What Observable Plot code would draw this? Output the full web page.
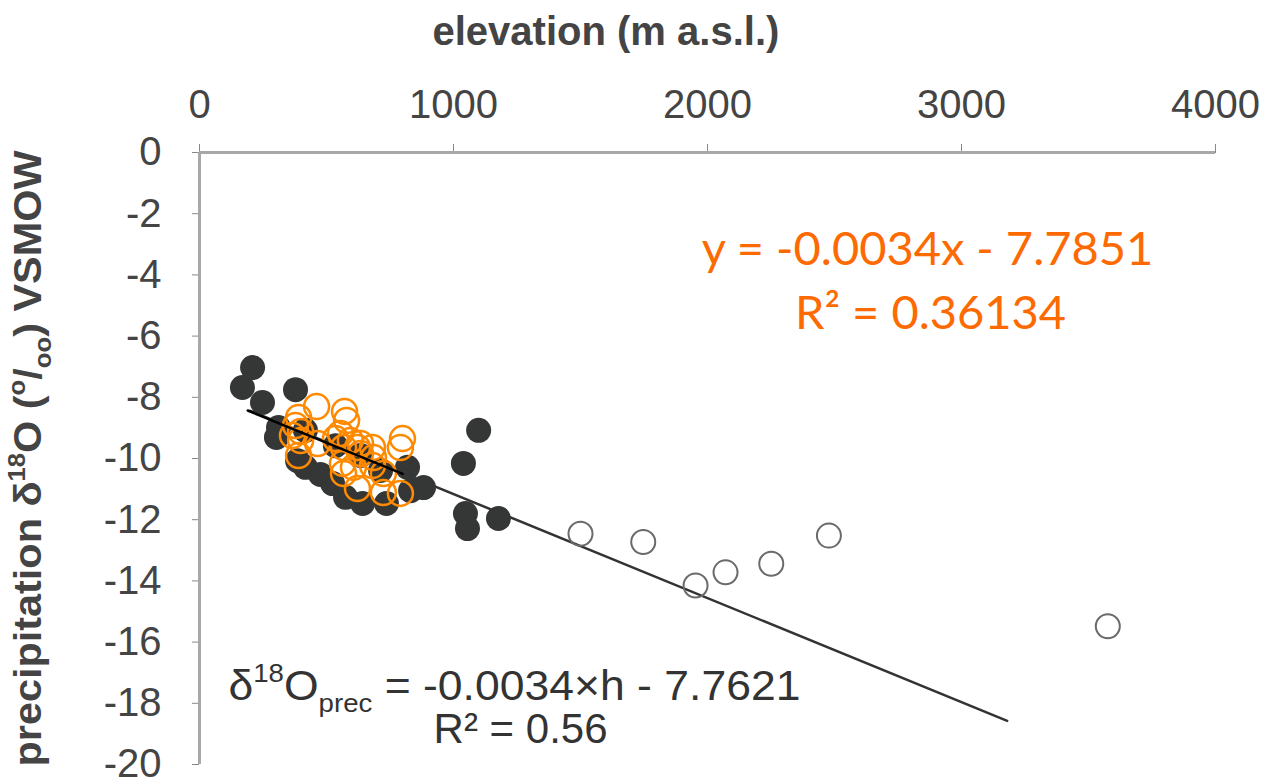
<!DOCTYPE html>
<html><head><meta charset="utf-8">
<script src="https://cdn.jsdelivr.net/npm/d3@7"></script>
<script src="https://cdn.jsdelivr.net/npm/@observablehq/plot@0.6"></script>
<style>body{margin:0;background:#fff;overflow:hidden}</style>
</head><body><div id="chart"></div>
<script>
// ---- data ----
const blackElev = [169, 209, 248, 378, 311, 303, 386, 417, 476, 524, 575, 642, 736, 831, 819, 882, 417, 535, 634, 713, 1039, 1099, 1047, 1055, 1177];
const blackD18O = [-7.68, -7.03, -8.17, -7.75, -8.99, -9.31, -10.07, -10.29, -10.52, -10.82, -11.27, -11.47, -11.47, -11.05, -10.29, -10.95, -9.08, -9.58, -9.90, -10.39, -10.16, -9.08, -11.80, -12.29, -11.96];

const openElev = [1500, 1747, 1953, 2071, 2251, 2478, 3576];
const openD18O = [-12.46, -12.73, -14.15, -13.72, -13.44, -12.52, -15.48];

const orangeElev = [461, 571, 579, 390, 378, 398, 366, 465, 390, 555, 567, 594, 622, 634, 681, 685, 563, 567, 606, 681, 622, 724, 791, 799, 791, 724, 634, 398, 535];
const orangeD18O = [-8.30, -8.46, -8.76, -8.66, -8.92, -9.12, -9.25, -9.51, -9.90, -9.18, -9.64, -9.41, -9.64, -9.84, -9.64, -9.97, -10.16, -10.49, -10.29, -10.23, -10.98, -11.11, -11.14, -9.35, -9.64, -10.49, -9.51, -9.41, -9.35];

// regression lines as printed on the chart
const blackFit = {slope: -0.0034, intercept: -7.7621, range: [200, 3180]};
const orangeFit = {slope: -0.0034, intercept: -7.7851, range: [190, 800]};

const xTicks = [0, 1000, 2000, 3000, 4000];
const yTicks = [0, -2, -4, -6, -8, -10, -12, -14, -16, -18, -20];

// ---- build tables ----
const black = blackElev.map((e, i) => ({elev: e, d: blackD18O[i]}));
const open = openElev.map((e, i) => ({elev: e, d: openD18O[i]}));
const orange = orangeElev.map((e, i) => ({elev: e, d: orangeD18O[i]}));
const fitPts = f => f.range.map(x => ({elev: x, d: f.slope * x + f.intercept}));

const tickFont = "'Liberation Sans', Arial, sans-serif";
const orangeCol = "#fd6a02";

const chart = Plot.plot({
  width: 1266,
  height: 784,
  marginLeft: 199,
  marginRight: 51,
  marginTop: 152,
  marginBottom: 20,
  style: {fontFamily: tickFont, fontSize: "40px", color: "#444", background: "#fff"},
  x: {domain: [0, 4000]},
  y: {domain: [-20, 0]},
  marks: [
    Plot.axisX({anchor: "top", ticks: xTicks, tickSize: 9, tickPadding: 26, tickFormat: d => String(d), label: null, stroke: "#888", fill: "#444", fontSize: 40}),
    Plot.axisY({anchor: "left", ticks: yTicks, tickSize: 7, tickPadding: 31, tickFormat: d => String(d), label: null, stroke: "#888", fill: "#444", fontSize: 40}),
    Plot.ruleY([0], {stroke: "#a8a8a8", strokeWidth: 3}),
    Plot.ruleX([0], {stroke: "#a8a8a8", strokeWidth: 3}),
    Plot.line(fitPts(blackFit), {x: "elev", y: "d", stroke: "#333", strokeWidth: 2.5}),
    Plot.dot(black, {x: "elev", y: "d", r: 12.5, fill: "#353737", stroke: "none"}),
    Plot.dot(open, {x: "elev", y: "d", r: 12, fill: "none", stroke: "#6a6a6a", strokeWidth: 2}),
    Plot.dot(orange, {x: "elev", y: "d", r: 12.5, fill: "none", stroke: "#ff8a00", strokeWidth: 2.5}),
    Plot.line(fitPts(orangeFit), {x: "elev", y: "d", stroke: "#000", strokeWidth: 2.5}),
    // titles
    Plot.text(["TITLE"], {x: 1600, y: 0, dy: -120, text: d => d, fontSize: 40, fontWeight: "bold", fill: "#444", fontFamily: tickFont}),
    Plot.text(["YLABEL"], {frameAnchor: "left", dx: -171, rotate: -90, textAnchor: "middle", text: d => d, fontSize: 38, fontWeight: "bold", fill: "#444", fontFamily: tickFont}),
    // equations
    Plot.text(["y = -0.0034x - 7.7851"], {x: 2866, y: -3.2, text: d => d, fontSize: 47, fill: orangeCol, fontFamily: "Lato, 'Open Sans', sans-serif"}),
    Plot.text(["R\u00b2 = 0.36134"], {x: 2878, y: -5.26, text: d => d, fontSize: 47, fill: orangeCol, fontFamily: "Lato, 'Open Sans', sans-serif"}),
    Plot.text(["EQBLACK"], {x: 1240, y: -17.45, text: d => d, fontSize: 42, fill: "#333", fontFamily: tickFont}),
    Plot.text(["R\u00b2 = 0.56"], {x: 1264, y: -18.85, text: d => d, fontSize: 42, fill: "#333", fontFamily: tickFont})
  ]
});

document.getElementById("chart").appendChild(chart);

// rich text (super/subscripts) and condensed widths
function richify(placeholder, parts, textLength) {
  d3.select(chart).selectAll("text").filter(function() { return this.textContent === placeholder; })
    .each(function() {
      const t = d3.select(this);
      t.text(null);
      let shift = 0;
      for (const p of parts) {
        const target = p.s === "sup" ? -0.42 : p.s === "sub" ? 0.28 : 0;
        const ts = t.append("tspan").text(p.t);
        const dy = target - shift;
        if (p.s) {
          ts.attr("font-size", "0.62em");
          if (dy !== 0) ts.attr("dy", (dy / 0.62) + "em");
        } else if (dy !== 0) ts.attr("dy", dy + "em");
        shift = target;
      }
      if (textLength) t.attr("textLength", textLength).attr("lengthAdjust", "spacingAndGlyphs");
    });
}
richify("TITLE", [{t: "elevation (m a.s.l.)"}], 347);
richify("YLABEL", [
  {t: "precipitation \u03b4"}, {t: "18", s: "sup"}, {t: "O ("}, {t: "o", s: "sup"}, {t: "/"}, {t: "oo", s: "sub"}, {t: ") VSMOW"}
], 616);
richify("EQBLACK", [
  {t: "\u03b4"}, {t: "18", s: "sup"}, {t: "O"}, {t: "prec", s: "sub"}, {t: " = -0.0034\u00d7h - 7.7621"}
], 572);
</script>
</body></html>
